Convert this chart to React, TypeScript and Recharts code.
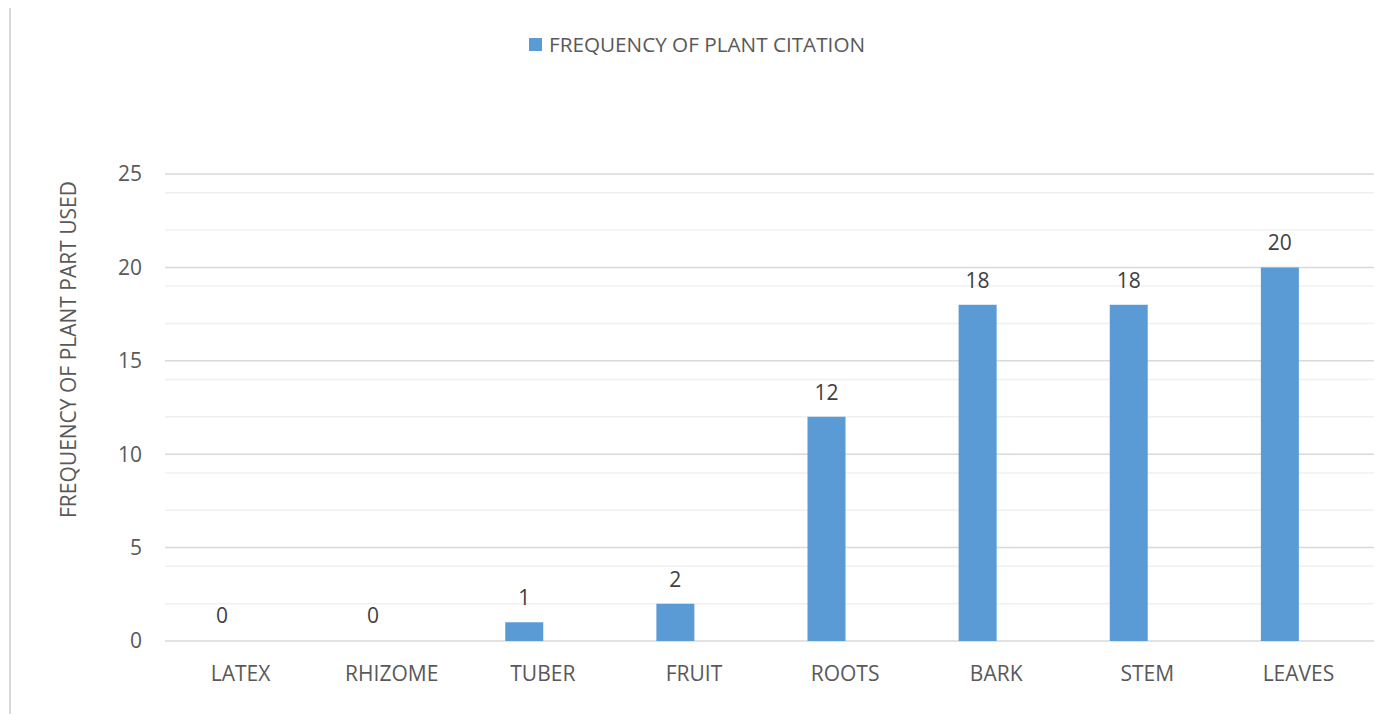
import { BarChart, Bar, XAxis, YAxis, CartesianGrid, Legend, LabelList, Label, Cell } from "recharts";

const parts = ["LATEX", "RHIZOME", "TUBER", "FRUIT", "ROOTS", "BARK", "STEM", "LEAVES"];
const citations = [0, 0, 1, 2, 12, 18, 18, 20];
// Excel left an empty second series, which pushes each bar left of its category centre
const emptySeries = [null, null, null, null, null, null, null, null];
const majorTicks = [0, 5, 10, 15, 20, 25];
const minorTicks = [1, 2, 3, 4, 6, 7, 8, 9, 11, 12, 13, 14, 16, 17, 18, 19, 21, 22, 23, 24];

const seriesName = "FREQUENCY OF PLANT CITATION";
const yTitle = "FREQUENCY OF PLANT PART USED";

const data = parts.map((part, i) => ({ part, citation: citations[i], blank: emptySeries[i] }));

const FONT = "'Open Sans', 'Noto Sans', sans-serif";
const FS = 21;
const BLUE = "#5b9bd5";

function LegendBox({ payload }: any) {
  const items = (payload || []).filter((p: any) => p.dataKey === "citation");
  return (
    <div style={{ display: "flex", justifyContent: "center", fontFamily: FONT, fontSize: FS, color: "#595959", lineHeight: "28px", paddingLeft: 7 }}>
      {items.map((p: any) => (
        <div key={p.value} style={{ display: "flex", alignItems: "center" }}>
          <span style={{ width: 13, height: 13, background: BLUE, marginRight: 7, display: "inline-block" }} />
          <span style={{ fontSize: 20.7 }}>{p.value}</span>
        </div>
      ))}
    </div>
  );
}

function YTitle({ viewBox }: any) {
  const x = viewBox.x + 59;
  const y = viewBox.y + viewBox.height / 2 - 58;
  return (
    <text x={x} y={y} transform={`rotate(-90, ${x}, ${y})`} textAnchor="middle" dominantBaseline="central"
      fill="#595959" fontSize={FS} fontFamily={FONT}>
      {yTitle}
    </text>
  );
}

export default function App() {
  return (
    <div style={{ marginTop: -3, marginLeft: 1, width: 1369, height: 722, border: "2px solid #d9d9d9", boxSizing: "border-box", position: "relative", background: "#fff" }}>
      <BarChart width={1365} height={718} data={data} barGap={0} barSize={38}
        margin={{ top: 139, right: 2, left: -2, bottom: 44 }}>
        <CartesianGrid vertical={false} horizontalValues={minorTicks} stroke="#f0f0f0" strokeWidth={1.5} />
        <CartesianGrid vertical={false} stroke="#d9d9d9" strokeWidth={1.5} />
        <XAxis dataKey="part" axisLine={false} tickLine={false} tickSize={0} tickMargin={25} height={40}
          tick={{ fill: "#595959", fontSize: FS, fontFamily: FONT }} interval={0} />
        <YAxis domain={[0, 25]} ticks={majorTicks} axisLine={false} tickLine={false} tickSize={0} tickMargin={23}
          width={156} tick={{ fill: "#595959", fontSize: FS, fontFamily: FONT }}>
          <Label content={<YTitle />} />
        </YAxis>
        <Legend verticalAlign="top" content={<LegendBox />} wrapperStyle={{ top: 23, left: 0, width: 1365 }} />
        <Bar dataKey="citation" name={seriesName} fill={BLUE} minPointSize={1} isAnimationActive={false}>
          {citations.map((v, i) => (
            <Cell key={parts[i]} fill={v > 0 ? BLUE : "transparent"} />
          ))}
          <LabelList dataKey="citation" position="top" offset={17} fill="#404040" fontSize={FS} fontFamily={FONT} />
        </Bar>
        <Bar dataKey="blank" fill="transparent" legendType="none" isAnimationActive={false} />
      </BarChart>
    </div>
  );
}
